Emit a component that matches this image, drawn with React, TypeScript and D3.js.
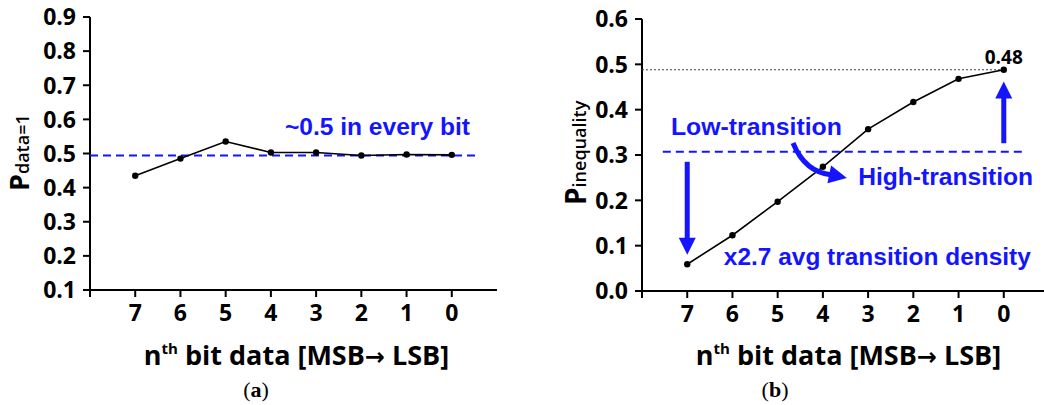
import React from 'react';
import * as d3 from 'd3';

// bit positions, MSB -> LSB
const bits = ['7', '6', '5', '4', '3', '2', '1', '0'];
// (a) probability that the bit is 1
const pData1 = [0.435, 0.485, 0.535, 0.503, 0.503, 0.494, 0.497, 0.496];
const pData1Ref = 0.494;
const leftTicks = [0.1, 0.2, 0.3, 0.4, 0.5, 0.6, 0.7, 0.8, 0.9];
// (b) inequality probability
const pInequality = [0.059, 0.123, 0.197, 0.274, 0.357, 0.417, 0.468, 0.488];
const inequalityThreshold = 0.307;
const rightTicks = [0, 0.1, 0.2, 0.3, 0.4, 0.5, 0.6];

const BLUE = '#1414ff';
const TICK_FONT = '"Open Sans", "Noto Sans", sans-serif';
const NOTE_FONT = '"Liberation Sans", Arial, sans-serif';
const ARROW_FONT = '"DejaVu Sans", sans-serif';

// triangle head pointing from (fx,fy) to tip (tx,ty)
function arrowHead(fx: number, fy: number, tx: number, ty: number, len = 17, half = 8.5) {
  const a = Math.atan2(ty - fy, tx - fx);
  const bx = tx - len * Math.cos(a), by = ty - len * Math.sin(a);
  const px = -Math.sin(a) * half, py = Math.cos(a) * half;
  return `${tx},${ty} ${bx + px},${by + py} ${bx - px},${by - py}`;
}

function Axes({ x, y, ticks, fmt, idx }: any) {
  const [x0, x1] = x.range();
  const [yb, yt] = y.range();
  return (
    <g>
      <line x1={x0} x2={x0} y1={yt} y2={yb} stroke="#000" strokeWidth={2} />
      <line x1={x0} x2={x1} y1={yb} y2={yb} stroke="#000" strokeWidth={2} />
      {ticks.map((t: number) => (
        <g key={t}>
          <line x1={x0 - 7} x2={x0} y1={y(t)} y2={y(t)} stroke="#000" strokeWidth={2} />
          <text x={x0 - 14} y={y(t)} dy="0.36em" textAnchor="end" fontFamily={TICK_FONT}
            fontWeight={700} fontSize={23}>{fmt(t)}</text>
        </g>
      ))}
      {[-1, ...idx].map((i: number) => (
        <line key={i} x1={x(i)} x2={x(i)} y1={yb} y2={yb + 7} stroke="#000" strokeWidth={2} />
      ))}
      {idx.map((i: number) => (
        <text key={i} x={x(i)} y={yb + 31} textAnchor="middle" fontFamily={TICK_FONT}
          fontWeight={700} fontSize={23}>{bits[i]}</text>
      ))}
      <text x={(x0 + x1) / 2 + 3} y={365} textAnchor="middle" fontFamily={TICK_FONT}
        fontWeight={700} fontSize={27}>
        n<tspan fontSize={15} dy={-11}>th</tspan><tspan dy={11}> bit data [MSB</tspan>
        <tspan fontFamily={ARROW_FONT} fontSize={24}>→</tspan><tspan> LSB]</tspan>
      </text>
    </g>
  );
}

function Series({ x, y, values }: any) {
  const line = d3.line<number>().x((_, i) => x(i)).y(d => y(d));
  return (
    <g>
      <path d={line(values) || ''} fill="none" stroke="#000" strokeWidth={1.6} />
      {values.map((v: number, i: number) => (
        <circle key={i} cx={x(i)} cy={y(v)} r={3.2} fill="#000" />
      ))}
    </g>
  );
}

export default function App() {
  const idx = d3.range(bits.length);

  // (a)
  const xL = d3.scaleLinear().domain([-1, 8]).range([90, 497]);
  const yL = d3.scaleLinear().domain([0.1, 0.9]).range([290, 17]);
  // (b)
  const xR = d3.scaleLinear().domain([-1, 8]).range([642, 1049]);
  const yR = d3.scaleLinear().domain([0, 0.6]).range([291, 19]);

  const f1 = d3.format('.1f');

  // curved arrow (b)
  const c0 = [xR(2.34), yR(0.3265)];
  const c1 = [xR(2.6), yR(0.262)];
  const c2 = [xR(3.2), yR(0.256)];
  const tip = [xR(3.53), yR(0.249)];

  return (
    <svg width={1044} height={405} style={{ position: 'absolute', left: 0, top: 0, background: '#fff' }}>
      <style>{'body{margin:0}'}</style>

      {/* ---------- (a) ---------- */}
      <Axes x={xL} y={yL} ticks={leftTicks} fmt={f1} idx={idx} />
      <line x1={xL(-1)} x2={xL(7.62)} y1={yL(pData1Ref)} y2={yL(pData1Ref)} stroke={BLUE}
        strokeWidth={2} strokeDasharray="8,5" />
      <Series x={xL} y={yL} values={pData1} />
      <text x={xL(3.31)} y={yL(0.554)} fill={BLUE} fontFamily={NOTE_FONT} fontWeight={700}
        fontSize={23} textLength={185} lengthAdjust="spacingAndGlyphs">~0.5 in every bit</text>
      <text transform="translate(29,191) rotate(-90)" fontFamily={TICK_FONT} fontWeight={700}>
        <tspan fontSize={27}>P</tspan><tspan fontSize={18} fontWeight={600}>data=1</tspan>
      </text>
      <text x={256} y={397} textAnchor="middle" fontFamily='"Liberation Serif", serif' fontSize={22}>
        (<tspan fontWeight={700}>a</tspan>)
      </text>

      {/* ---------- (b) ---------- */}
      <Axes x={xR} y={yR} ticks={rightTicks} fmt={f1} idx={idx} />
      <line x1={xR(-1)} x2={xR(7)} y1={yR(pInequality[7])} y2={yR(pInequality[7])} stroke="#444"
        strokeWidth={1} strokeDasharray="2,2" />
      <line x1={xR(-0.54)} x2={xR(7.51)} y1={yR(inequalityThreshold)} y2={yR(inequalityThreshold)}
        stroke={BLUE} strokeWidth={2} strokeDasharray="8,5" />
      <Series x={xR} y={yR} values={pInequality} />
      <text x={xR(7.42)} y={yR(0.5)} textAnchor="end" fontFamily={TICK_FONT} fontWeight={700}
        fontSize={19}>0.48</text>

      {/* arrows */}
      <line x1={xR(0)} x2={xR(0)} y1={yR(0.285)} y2={yR(0.08) - 15} stroke={BLUE} strokeWidth={5} />
      <polygon points={arrowHead(xR(0), yR(0.285), xR(0), yR(0.08))} fill={BLUE} />
      <line x1={xR(7)} x2={xR(7)} y1={yR(0.326)} y2={yR(0.462) + 15} stroke={BLUE} strokeWidth={5} />
      <polygon points={arrowHead(xR(7), yR(0.326), xR(7), yR(0.462))} fill={BLUE} />
      <path d={`M${c0[0]},${c0[1]} Q${c1[0]},${c1[1]} ${c2[0]},${c2[1]}`} fill="none" stroke={BLUE}
        strokeWidth={5} />
      <polygon points={arrowHead(c2[0] - 4, c2[1] - 0.8, tip[0], tip[1], 18, 9)} fill={BLUE} />

      <text x={xR(-0.36)} y={yR(0.344)} fill={BLUE} fontFamily={NOTE_FONT} fontWeight={700}
        fontSize={23} textLength={171} lengthAdjust="spacingAndGlyphs">Low-transition</text>
      <text x={xR(3.78)} y={yR(0.234)} fill={BLUE} fontFamily={NOTE_FONT} fontWeight={700}
        fontSize={23} textLength={175} lengthAdjust="spacingAndGlyphs">High-transition</text>
      <text x={xR(0.81)} y={yR(0.057)} fill={BLUE} fontFamily={NOTE_FONT} fontWeight={700}
        fontSize={23} textLength={307} lengthAdjust="spacingAndGlyphs">x2.7 avg transition density</text>

      <text transform="translate(586,205) rotate(-90)" fontFamily={TICK_FONT} fontWeight={700}>
        <tspan fontSize={28}>P</tspan><tspan fontSize={18} fontWeight={600}>inequality</tspan>
      </text>
      <text x={775} y={397} textAnchor="middle" fontFamily='"Liberation Serif", serif' fontSize={22}>
        (<tspan fontWeight={700}>b</tspan>)
      </text>
    </svg>
  );
}
